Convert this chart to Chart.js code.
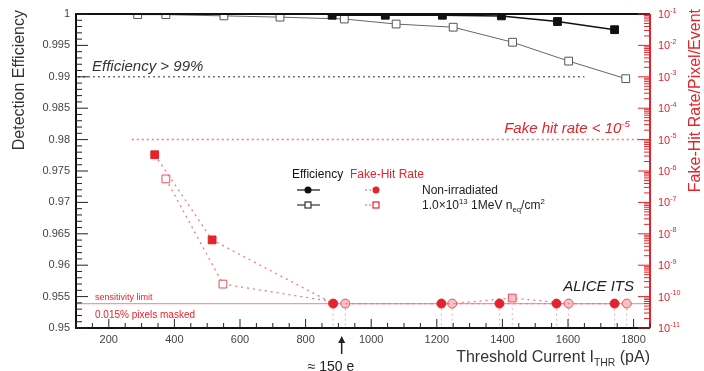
<!DOCTYPE html>
<html>
<head>
<meta charset="utf-8">
<script src="https://cdn.jsdelivr.net/npm/chart.js@4.4.1/dist/chart.umd.min.js"></script>
<style>
  html, body { margin: 0; padding: 0; background: #fff; }
  #wrap { width: 704px; height: 371px; }
</style>
</head>
<body>
<div id="wrap"><canvas id="chart"></canvas></div>
<script>
// x axis ticks (threshold current, pA)
const xTicks = [200, 400, 600, 800, 1000, 1200, 1400, 1600, 1800];
const effTicks = [0.95, 0.955, 0.96, 0.965, 0.97, 0.975, 0.98, 0.985, 0.99, 0.995, 1];
const effTickLabels = ['0.95', '0.955', '0.96', '0.965', '0.97', '0.975', '0.98', '0.985', '0.99', '0.995', '1'];
const fakeDecades = [-11, -10, -9, -8, -7, -6, -5, -4, -3, -2, -1];

// efficiency, non-irradiated (filled black)
const effNonX = [881, 1043, 1217, 1397, 1568, 1742];
const effNonY = [0.9998, 0.9998, 0.9998, 0.9997, 0.9988, 0.9975];
// efficiency, irradiated (open)
const effIrrX = [288, 374, 551, 722, 918, 1076, 1250, 1431, 1602, 1776];
const effIrrY = [0.9999, 0.9999, 0.9997, 0.9995, 0.9992, 0.9984, 0.9979, 0.9955, 0.9925, 0.9897];
// fake hit rate, non-irradiated (filled red)
const fakeNonX = [340, 515, 884, 1214, 1391, 1565, 1742];
const fakeNonY = [3.3e-6, 6.4e-9, 6e-11, 6e-11, 6e-11, 6e-11, 6e-11];
// fake hit rate, irradiated (open red)
const fakeIrrX = [374, 548, 921, 1247, 1430, 1602, 1779];
const fakeIrrY = [5.6e-7, 2.5e-10, 6e-11, 6e-11, 9e-11, 6e-11, 6e-11];

const effLimit = 0.99;
const fakeLimit = 1e-5;
const sensLimit = 6e-11;
const arrowAt = 910;

const RED = '#e3242b';
const LRED = '#f07a80';
const FONT = '"Liberation Sans", Arial, sans-serif';

function pts(xs, ys) { return xs.map((x, i) => ({ x: x, y: ys[i] })); }
function atLimit(ys) { return ys.map(v => v <= 1e-10); }

function richText(ctx, parts, x, y, size, align, style) {
  // parts: [text, mode] mode '' | 'sup' | 'sub'
  const pre = style ? style + ' ' : '';
  const w = parts.map(p => {
    ctx.font = pre + (p[1] ? size * 0.65 : size) + 'px ' + FONT;
    return ctx.measureText(p[0]).width;
  });
  const total = w.reduce((a, b) => a + b, 0);
  let cx = align === 'right' ? x - total : x;
  parts.forEach((p, i) => {
    ctx.font = pre + (p[1] ? size * 0.65 : size) + 'px ' + FONT;
    let dy = 0;
    if (p[1] === 'sup') dy = -size * 0.4;
    if (p[1] === 'sub') dy = size * 0.25;
    ctx.fillText(p[0], cx, y + dy);
    cx += w[i];
  });
}

const rootPlugin = {
  id: 'rootLook',
  beforeDatasetsDraw(chart) {
    const { ctx, chartArea: a, scales } = chart;
    const sx = scales.x, sy = scales.y, s2 = scales.y2;
    ctx.save();
    // efficiency > 99% line
    ctx.strokeStyle = '#777';
    ctx.lineWidth = 1.5;
    ctx.setLineDash([2, 3]);
    let y = sy.getPixelForValue(effLimit);
    ctx.beginPath(); ctx.moveTo(a.left + 2, y); ctx.lineTo(sx.getPixelForValue(1650), y); ctx.stroke();
    // fake hit rate < 1e-5 line
    ctx.strokeStyle = LRED;
    y = s2.getPixelForValue(fakeLimit);
    ctx.beginPath(); ctx.moveTo(sx.getPixelForValue(270), y); ctx.lineTo(a.right, y); ctx.stroke();
    // sensitivity limit
    ctx.setLineDash([]);
    ctx.strokeStyle = '#f29aa0';
    ctx.lineWidth = 1.2;
    y = s2.getPixelForValue(sensLimit);
    ctx.beginPath(); ctx.moveTo(a.left, y); ctx.lineTo(a.right, y); ctx.stroke();
    // upper limit drop lines
    ctx.setLineDash([2, 3]);
    ctx.lineWidth = 1;
    ctx.strokeStyle = '#f4b0b4';
    [[fakeNonX, fakeNonY], [fakeIrrX, fakeIrrY]].forEach(([xs, ys]) => {
      xs.forEach((xv, i) => {
        if (ys[i] > 1e-10) return;
        const px = sx.getPixelForValue(xv);
        ctx.beginPath(); ctx.moveTo(px, s2.getPixelForValue(ys[i]) + 5); ctx.lineTo(px, a.bottom); ctx.stroke();
      });
    });
    ctx.restore();
  },
  afterDraw(chart) {
    const { ctx, chartArea: a, scales } = chart;
    const sx = scales.x, sy = scales.y, s2 = scales.y2;
    ctx.save();
    // frame
    ctx.lineWidth = 2;
    ctx.strokeStyle = '#111';
    ctx.beginPath();
    ctx.moveTo(a.right, a.top); ctx.lineTo(a.left, a.top); ctx.lineTo(a.left, a.bottom); ctx.lineTo(a.right, a.bottom);
    ctx.stroke();
    ctx.strokeStyle = RED;
    ctx.beginPath(); ctx.moveTo(a.right, a.top); ctx.lineTo(a.right, a.bottom); ctx.stroke();

    // left ticks
    ctx.lineWidth = 1;
    ctx.strokeStyle = '#222';
    for (let i = 0; i <= 50; i++) {
      const py = sy.getPixelForValue(0.95 + i * 0.001);
      const len = i % 5 === 0 ? 12 : 6;
      ctx.beginPath(); ctx.moveTo(a.left, py); ctx.lineTo(a.left + len, py); ctx.stroke();
    }
    // bottom ticks
    for (let v = 100; v <= 1850; v += 50) {
      const px = sx.getPixelForValue(v);
      const len = v % 200 === 0 ? 9 : 5;
      ctx.beginPath(); ctx.moveTo(px, a.bottom); ctx.lineTo(px, a.bottom - len); ctx.stroke();
    }
    // right log ticks
    ctx.strokeStyle = RED;
    fakeDecades.forEach(d => {
      for (let k = 1; k <= 9; k++) {
        const v = k * Math.pow(10, d);
        if (v > 0.1 * 1.0001) break;
        const py = s2.getPixelForValue(v);
        const len = k === 1 ? 12 : 6;
        ctx.beginPath(); ctx.moveTo(a.right, py); ctx.lineTo(a.right - len, py); ctx.stroke();
      }
    });
    // right tick labels
    ctx.fillStyle = RED;
    ctx.textBaseline = 'middle';
    fakeDecades.forEach(d => {
      const py = s2.getPixelForValue(Math.pow(10, d));
      richText(ctx, [['10', ''], [String(d), 'sup']], a.right + 8, py + 1, 11, 'left');
    });

    // axis titles
    ctx.fillStyle = '#333';
    ctx.font = '16px ' + FONT;
    ctx.save();
    ctx.translate(20, a.top - 4);
    ctx.rotate(-Math.PI / 2);
    ctx.textAlign = 'right';
    ctx.fillText('Detection Efficiency', 0, 0);
    ctx.restore();
    ctx.save();
    ctx.fillStyle = RED;
    ctx.font = '16px ' + FONT;
    ctx.translate(696, a.top - 5);
    ctx.rotate(-Math.PI / 2);
    ctx.textAlign = 'right';
    ctx.fillText('Fake-Hit Rate/Pixel/Event', 0, 0);
    ctx.restore();

    ctx.textAlign = 'left';
    ctx.textBaseline = 'alphabetic';
    ctx.fillStyle = '#333';
    richText(ctx, [['Threshold Current I', ''], ['THR', 'sub'], [' (pA)', '']], 650, 362, 16, 'right');

    // threshold labels
    ctx.font = 'italic 15px ' + FONT;
    ctx.fillStyle = '#333';
    ctx.fillText('Efficiency > 99%', 92, 71);
    ctx.fillStyle = RED;
    const fy = s2.getPixelForValue(fakeLimit) - 7;
    richText(ctx, [['Fake hit rate < 10', ''], ['-5', 'sup']], 630, fy, 15, 'right', 'italic');
    ctx.textAlign = 'right';
    ctx.fillStyle = '#222';
    ctx.font = 'italic 15px ' + FONT;
    ctx.fillText('ALICE ITS', 634, 291);

    // sensitivity labels
    ctx.textAlign = 'left';
    ctx.fillStyle = RED;
    ctx.font = '9px ' + FONT;
    const sy2 = s2.getPixelForValue(sensLimit);
    ctx.fillText('sensitivity limit', 95, sy2 - 4);
    ctx.font = '10px ' + FONT;
    ctx.fillText('0.015% pixels masked', 95, sy2 + 14);

    // legend
    ctx.font = '12px ' + FONT;
    ctx.fillStyle = '#111';
    ctx.fillText('Efficiency', 292, 178);
    ctx.fillStyle = RED;
    ctx.fillText('Fake-Hit Rate', 350, 178);
    // row 1
    ctx.strokeStyle = '#111';
    ctx.lineWidth = 1.2;
    ctx.beginPath(); ctx.moveTo(297, 190); ctx.lineTo(320, 190); ctx.stroke();
    ctx.fillStyle = '#111';
    ctx.beginPath(); ctx.arc(308, 190, 3.5, 0, Math.PI * 2); ctx.fill();
    ctx.strokeStyle = LRED;
    ctx.setLineDash([2, 2]);
    ctx.beginPath(); ctx.moveTo(365, 190); ctx.lineTo(371, 190); ctx.stroke();
    ctx.setLineDash([]);
    ctx.fillStyle = RED;
    ctx.beginPath(); ctx.arc(376, 190, 3.5, 0, Math.PI * 2); ctx.fill();
    ctx.fillStyle = '#222';
    ctx.font = '12px ' + FONT;
    ctx.fillText('Non-irradiated', 422, 194);
    // row 2
    ctx.strokeStyle = '#333';
    ctx.beginPath(); ctx.moveTo(297, 205); ctx.lineTo(320, 205); ctx.stroke();
    ctx.fillStyle = '#fff';
    ctx.fillRect(305, 202, 6, 6); ctx.strokeRect(305, 202, 6, 6);
    ctx.strokeStyle = LRED;
    ctx.setLineDash([2, 2]);
    ctx.beginPath(); ctx.moveTo(365, 205); ctx.lineTo(371, 205); ctx.stroke();
    ctx.setLineDash([]);
    ctx.strokeStyle = RED;
    ctx.fillStyle = '#fff';
    ctx.fillRect(373, 202, 6, 6); ctx.strokeRect(373, 202, 6, 6);
    ctx.fillStyle = '#222';
    richText(ctx, [['1.0\u00d710', ''], ['13', 'sup'], [' 1MeV n', ''], ['eq', 'sub'], ['/cm', ''], ['2', 'sup']], 422, 209, 12, 'left');

    // arrow to ~150 electrons
    const ax = sx.getPixelForValue(arrowAt);
    ctx.strokeStyle = '#222';
    ctx.fillStyle = '#222';
    ctx.lineWidth = 1.5;
    ctx.beginPath(); ctx.moveTo(ax, 354); ctx.lineTo(ax, 341); ctx.stroke();
    ctx.beginPath(); ctx.moveTo(ax, 336); ctx.lineTo(ax - 3.5, 343); ctx.lineTo(ax + 3.5, 343); ctx.closePath(); ctx.fill();
    richText(ctx, [['\u2248 150 e', ''], ['\u2212', 'sub']], ax - 34, 371, 14, 'left');
    ctx.restore();
  }
};

new Chart('chart', {
  type: 'scatter',
  data: {
    datasets: [{
      data: pts(effNonX, effNonY),
      yAxisID: 'y',
      showLine: true,
      borderColor: '#111',
      borderWidth: 1.5,
      backgroundColor: '#111',
      pointStyle: 'rect',
      pointRadius: 5.5,
      pointBorderWidth: 1
    }, {
      data: pts(effIrrX, effIrrY),
      yAxisID: 'y',
      showLine: true,
      borderColor: '#666',
      borderWidth: 1,
      pointBackgroundColor: '#fff',
      pointBorderColor: '#555',
      pointStyle: 'rect',
      pointRadius: 5.5,
      pointBorderWidth: 1
    }, {
      data: pts(fakeNonX, fakeNonY),
      yAxisID: 'y2',
      showLine: true,
      borderColor: LRED,
      borderDash: [2, 4],
      borderWidth: 1.3,
      pointBackgroundColor: RED,
      pointBorderColor: RED,
      pointStyle: atLimit(fakeNonY).map(l => l ? 'circle' : 'rect'),
      pointRadius: atLimit(fakeNonY).map(l => l ? 4.5 : 5.5),
      pointBorderWidth: 1
    }, {
      data: pts(fakeIrrX, fakeIrrY),
      yAxisID: 'y2',
      showLine: true,
      borderColor: LRED,
      borderDash: [2, 4],
      borderWidth: 1.3,
      pointBackgroundColor: atLimit(fakeIrrY).map(l => l ? '#f8c0c4' : '#fff'),
      pointBorderColor: '#e8505a',
      pointStyle: fakeIrrY.map(v => v <= 6e-11 ? 'circle' : 'rect'),
      pointRadius: fakeIrrY.map(v => v <= 6e-11 ? 4.5 : 5.5),
      pointBorderWidth: 1
    }]
  },
  options: {
    responsive: true,
    maintainAspectRatio: false,
    animation: false,
    devicePixelRatio: 1,
    layout: { padding: { top: 14, left: 0, right: 0, bottom: 0 } },
    plugins: { legend: { display: false }, tooltip: { enabled: false } },
    scales: {
      x: {
        type: 'linear',
        min: 100,
        max: 1850,
        afterBuildTicks: s => { s.ticks = xTicks.map(v => ({ value: v })); },
        afterFit: s => { s.height = 43; },
        grid: { display: false, drawTicks: false },
        border: { display: false },
        ticks: {
          color: '#444',
          padding: 5,
          font: { size: 11, family: FONT },
          maxRotation: 0,
          callback: v => String(v)
        }
      },
      y: {
        type: 'linear',
        position: 'left',
        min: 0.95,
        max: 1,
        afterBuildTicks: s => { s.ticks = effTicks.map(v => ({ value: v })); },
        afterFit: s => { s.width = 76; },
        grid: { display: false, drawTicks: false },
        border: { display: false },
        ticks: {
          color: '#444',
          padding: 6,
          font: { size: 11, family: FONT },
          callback: (v, i) => effTickLabels[i]
        }
      },
      y2: {
        type: 'logarithmic',
        position: 'right',
        min: 1e-11,
        max: 1e-1,
        afterFit: s => { s.width = 54; },
        grid: { display: false, drawTicks: false },
        border: { display: false },
        ticks: { display: false }
      }
    }
  },
  plugins: [rootPlugin]
});
</script>
</body>
</html>
